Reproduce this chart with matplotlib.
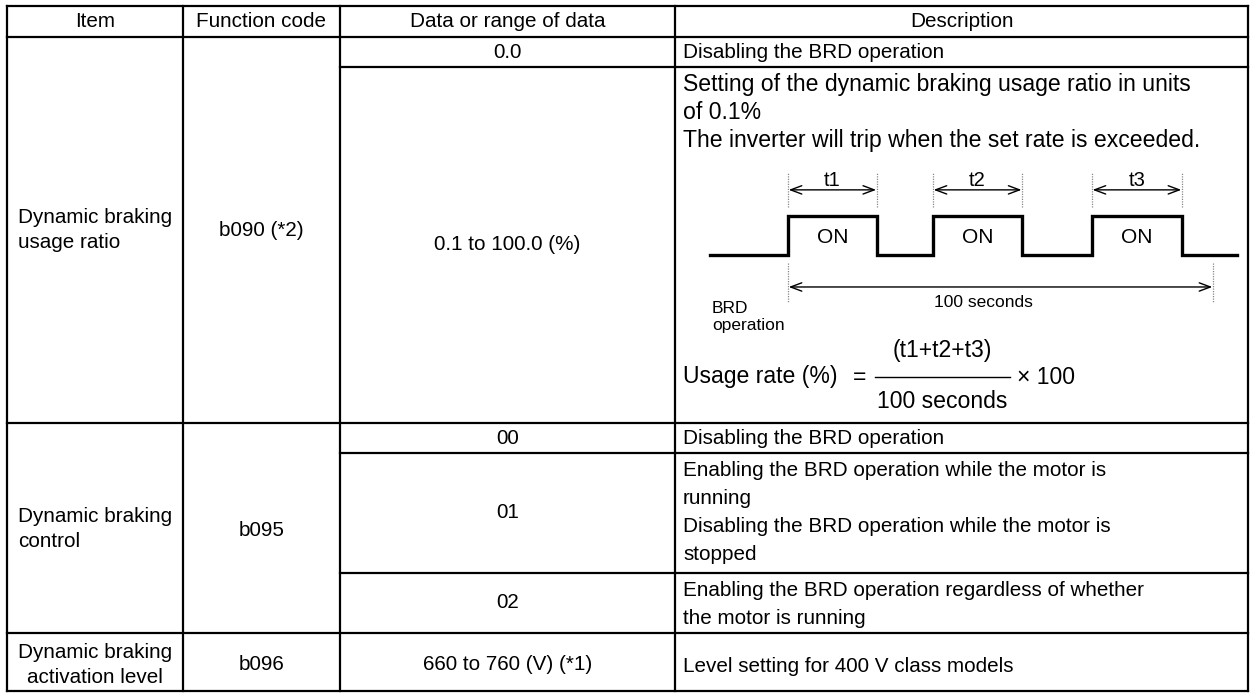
import matplotlib
matplotlib.use("Agg")
import matplotlib.pyplot as plt

# ---- table content ----
headers = ["Item", "Function code", "Data or range of data", "Description"]
items = ["Dynamic braking\nusage ratio", "Dynamic braking\ncontrol", "Dynamic braking\nactivation level"]
codes = ["b090 (*2)", "b095", "b096"]
data_values = ["0.0", "0.1 to 100.0 (%)", "00", "01", "02", "660 to 760 (V) (*1)"]
descriptions = [
    ["Disabling the BRD operation"],
    ["Setting of the dynamic braking usage ratio in units", "of 0.1%",
     "The inverter will trip when the set rate is exceeded."],
    ["Disabling the BRD operation"],
    ["Enabling the BRD operation while the motor is", "running",
     "Disabling the BRD operation while the motor is", "stopped"],
    ["Enabling the BRD operation regardless of whether", "the motor is running"],
    ["Level setting for 400 V class models"],
]

# BRD on-periods within the 100 s window (seconds)
on_start = [0.0, 34.1, 71.5]
on_end = [20.9, 55.1, 92.7]
on_labels = ["t1", "t2", "t3"]
window = 100

W, H = 1255, 693
FS = 14.9        # table text
FS_BIG = 16.6    # text of the usage-ratio block (drawn larger in the source)
plt.rcParams["font.family"] = ["Liberation Sans", "DejaVu Sans"]

fig = plt.figure(figsize=(W / 100, H / 100), dpi=100)
ax = fig.add_axes([0, 0, 1, 1])
ax.set_xlim(0, W)
ax.set_ylim(H, 0)
ax.axis("off")

# layout (pixels)
col_x = [7, 183, 340, 675, 1248]
row_y = [6, 37, 67, 423, 453, 573, 633, 691]
lw = 1.6
pitch = 28.3


def hline(y, x0, x1):
    ax.plot([x0, x1], [y, y], color="black", lw=lw, solid_capstyle="projecting")


def vline(x, y0, y1):
    ax.plot([x, x], [y0, y1], color="black", lw=lw, solid_capstyle="projecting")


# outer + column lines
for x in col_x:
    vline(x, row_y[0], row_y[-1])
for y in [row_y[0], row_y[1], row_y[3], row_y[6], row_y[7]]:
    hline(y, col_x[0], col_x[-1])
for y in [row_y[2], row_y[4], row_y[5]]:
    hline(y, col_x[2], col_x[-1])

cx = [(col_x[i] + col_x[i + 1]) / 2 for i in range(4)]

# header
for i, h in enumerate(headers):
    ax.text(cx[i], (row_y[0] + row_y[1]) / 2, h, ha="center", va="center", fontsize=FS)

# item column
ax.text(18, 230, items[0], ha="left", va="center", fontsize=FS, linespacing=1.4)
ax.text(18, 529, items[1], ha="left", va="center", fontsize=FS, linespacing=1.4)
ax.text(cx[0], 665, items[2], ha="center", va="center", fontsize=FS, linespacing=1.4)

# function codes
ax.text(cx[1], 230, codes[0], ha="center", va="center", fontsize=FS)
ax.text(cx[1], 530, codes[1], ha="center", va="center", fontsize=FS)
ax.text(cx[1], 665, codes[2], ha="center", va="center", fontsize=FS)

# data column
data_y = [52, 245, 438, 513, 603, 665]
for v, y in zip(data_values, data_y):
    ax.text(cx[2], y, v, ha="center", va="center", fontsize=FS)

# description column
desc_top = [52, 84, 438, 470, 590, 667]
for n, (lines, y0) in enumerate(zip(descriptions, desc_top)):
    size = FS_BIG if n == 1 else FS
    for k, line in enumerate(lines):
        ax.text(683, y0 + k * pitch, line, ha="left", va="center", fontsize=size)

# ---- timing diagram in its own axes (x in seconds, y in level units) ----
px0, px1 = 700, 1245
py0, py1 = 160, 335
dax = fig.add_axes([px0 / W, 1 - py1 / H, (px1 - px0) / W, (py1 - py0) / H])
sec_px = (1213 - 788) / window
dax.set_xlim((px0 - 788) / sec_px, (px1 - 788) / sec_px)
unit = 39.0
dax.set_ylim((255 - py1) / unit, (255 - py0) / unit)
dax.axis("off")
dax.patch.set_alpha(0)

xs = [(710 - 788) / sec_px]
ys = [0]
for s, e in zip(on_start, on_end):
    xs += [s, s, e, e]
    ys += [0, 1, 1, 0]
xs.append((1237 - 788) / sec_px)
ys.append(0)
dax.plot(xs, ys, color="black", lw=2.4, solid_joinstyle="miter")

dot = dict(color="#888888", lw=0.9, ls=(0, (1, 1)))
arrow = dict(arrowstyle="<->,head_length=0.8,head_width=0.3",
             lw=1.0, color="black", shrinkA=0.5, shrinkB=0.5)
for s, e, lab in zip(on_start, on_end, on_labels):
    for x in (s, e):
        dax.plot([x, x], [1.23, 2.1], **dot)
    dax.annotate("", xy=(e, 1.67), xytext=(s, 1.67), arrowprops=arrow)
    dax.text((s + e) / 2, 1.92, lab, ha="center", va="center", fontsize=14.5)
    dax.text((s + e) / 2, 0.45, "ON", ha="center", va="center", fontsize=15)

for x in (0, window):
    dax.plot([x, x], [-0.2, -1.2], **dot)
dax.annotate("", xy=(window, -0.82), xytext=(0, -0.82), arrowprops=arrow)
dax.text(window * 0.46, -1.22, "100 seconds", ha="center", va="center", fontsize=12.5)
dax.text((712 - 788) / sec_px, -1.38, "BRD", ha="left", va="center", fontsize=12.5)
dax.text((712 - 788) / sec_px, -1.82, "operation", ha="left", va="center", fontsize=12.5)

# ---- usage rate formula ----
ax.text(683, 377, "Usage rate (%)", ha="left", va="center", fontsize=FS_BIG)
ax.text(853, 377, "=", ha="left", va="center", fontsize=FS_BIG)
ax.plot([875, 1010], [377, 377], color="black", lw=1.0)
ax.text(942, 350, "(t1+t2+t3)", ha="center", va="center", fontsize=FS_BIG)
ax.text(942, 402, "100 seconds", ha="center", va="center", fontsize=FS_BIG)
ax.text(1017, 378, "\u00d7 100", ha="left", va="center", fontsize=FS_BIG)

fig.savefig("out.png", dpi=100)
